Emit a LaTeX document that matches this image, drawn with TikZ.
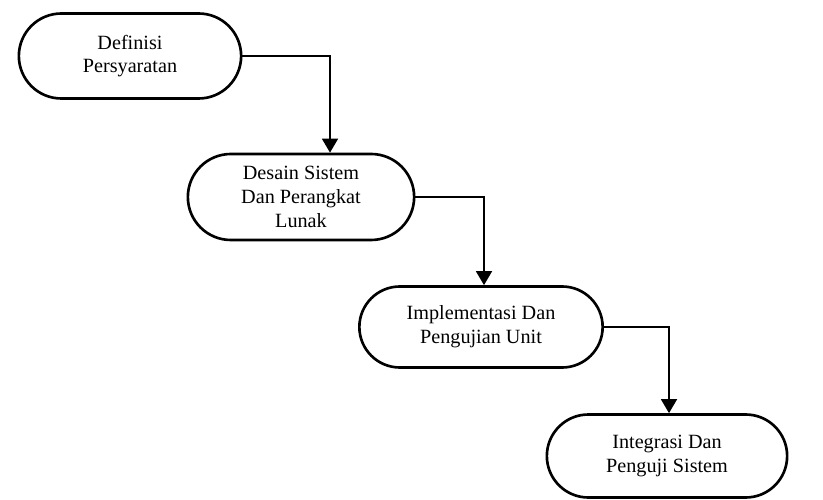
\documentclass[tikz,border=0pt]{standalone}
\usepackage{fontspec}
\setmainfont{Liberation Serif}
\usepackage{tikz}
\usetikzlibrary{shapes.misc}
\usetikzlibrary{arrows.meta}
\newcommand{\widthphase}{4.7cm}
\newcommand{\heightphase}{1.7cm}
\tikzset{
    phase/.style={draw, line width=1.5pt, rounded rectangle, minimum width=\widthphase,
        minimum height=\heightphase, align=center, font=\fontsize{11.5}{13.5}\selectfont},
    flow/.style={-{Triangle[width=9pt, length=8pt]}, line width=1.3pt}
}
\begin{document}
\begin{tikzpicture}
        \useasboundingbox (0,0) rectangle (16.46,-10);
        \path
            (2.6,-1.12) node[phase, minimum width=4.68cm] (definisi) {Definisi\\Persyaratan}
            to ++(3.42,-2.82) node[phase, minimum width=4.76cm, minimum height=1.72cm] (desain) {Desain Sistem\\Dan Perangkat\\Lunak}
            to ++(3.6,-2.6) node[phase, minimum width=5.1cm, minimum height=1.62cm] (implementasi) {Implementasi Dan\\Pengujian Unit}
            to ++(3.72,-2.58) node[phase, minimum width=5.04cm, minimum height=1.66cm] (integrasi) {Integrasi Dan\\Penguji Sistem};

        \draw[flow] (definisi.east) -| ([xshift=0.58cm]desain.north);
        \draw[flow] (desain.east) -| ([xshift=0.06cm]implementasi.north);
        \draw[flow] (implementasi.east) -| ([xshift=0.04cm]integrasi.north);
    \end{tikzpicture}
\end{document}
